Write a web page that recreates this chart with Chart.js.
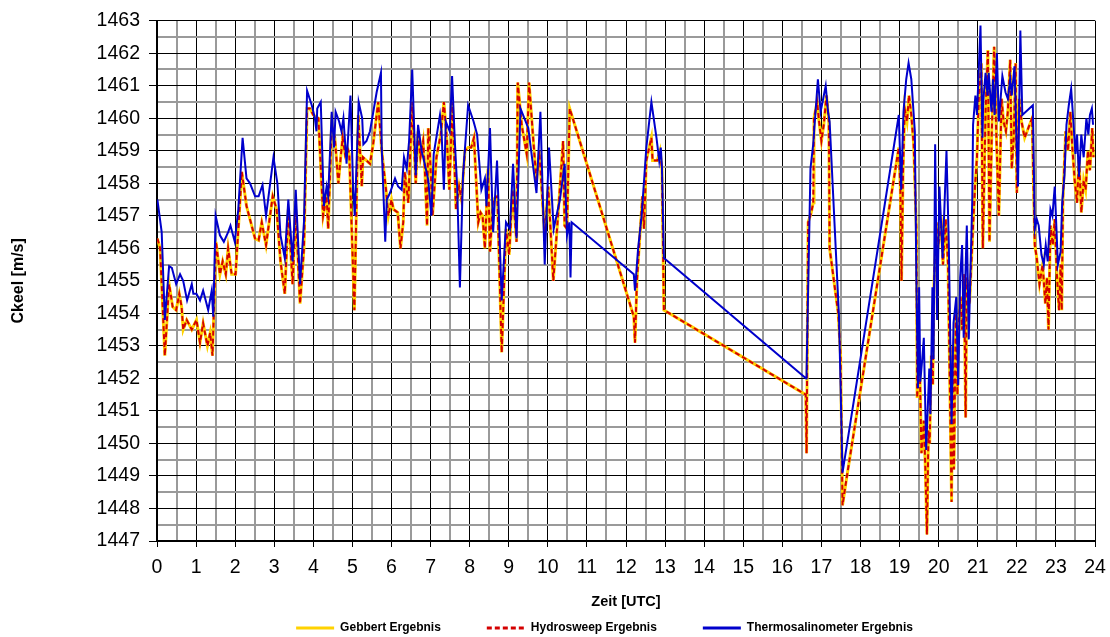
<!DOCTYPE html>
<html>
<head>
<meta charset="utf-8">
<title>Ckeel – Vergleich</title>
<script src="https://cdn.jsdelivr.net/npm/chart.js@4.4.1/dist/chart.umd.min.js"></script>
<style>
  html, body { margin: 0; padding: 0; background: #fff; }
  #wrap { width: 1110px; height: 637px; position: relative; }
</style>
</head>
<body>
<div id="wrap"><canvas id="chart"></canvas></div>
<script>
// Echolot-Auswertung (Gebbert / Hydrosweep): Zeitpunkte in Stunden UTC
const echoHours = [
  0.01,0.08,0.2,0.31,0.4,0.49,0.57,0.63,0.67,0.76,0.89,1.01,1.1,1.18,1.29,1.36,1.42,1.51,1.61,1.68,
  1.76,1.82,1.91,2.01,2.17,2.29,2.51,2.6,2.68,2.79,2.96,3.06,3.16,3.27,3.36,3.47,3.55,3.66,3.76,3.84,
  3.91,4.0,4.13,4.25,4.34,4.38,4.47,4.55,4.64,4.7,4.75,4.81,4.87,4.92,5.05,5.15,5.24,5.27,5.45,5.53,
  5.66,5.75,5.86,5.92,6.0,6.05,6.16,6.23,6.3,6.34,6.43,6.53,6.62,6.68,6.74,6.81,6.85,6.91,6.94,6.98,
  7.05,7.15,7.26,7.34,7.42,7.48,7.56,7.65,7.73,7.79,7.88,7.96,8.04,8.11,8.22,8.28,8.33,8.39,8.47,8.52,
  8.6,8.71,8.82,8.93,9.01,9.1,9.2,9.23,9.33,9.46,9.52,9.63,9.71,9.78,9.92,10.01,10.14,10.26,10.39,10.43,
  10.49,10.56,12.2,12.23,12.28,12.42,12.46,12.52,12.65,12.68,12.8,12.87,12.92,12.97,16.6,16.62,16.66,16.74,16.79,16.81,
  16.89,16.94,17.0,17.06,17.13,17.19,17.21,17.43,17.49,17.54,17.64,18.98,19.02,19.05,19.09,19.13,19.19,19.24,19.3,19.36,
  19.43,19.45,19.51,19.56,19.62,19.66,19.7,19.74,19.77,19.81,19.85,19.88,19.94,19.98,20.03,20.07,20.11,20.18,20.24,20.33,
  20.36,20.39,20.44,20.48,20.52,20.56,20.6,20.65,20.69,20.72,20.79,20.88,20.93,20.98,21.03,21.09,21.13,21.2,21.26,21.3,
  21.36,21.42,21.47,21.54,21.61,21.66,21.72,21.77,21.83,21.87,21.92,21.97,22.0,22.06,22.12,22.2,22.39,22.46,22.51,22.58,
  22.66,22.73,22.77,22.81,22.86,22.92,22.97,23.02,23.08,23.12,23.15,23.18,23.25,23.31,23.37,23.42,23.48,23.54,23.59,23.65,
  23.71,23.76,23.82,23.87,23.93,23.96
];

// Schallgeschwindigkeit am Kiel [m/s] nach Gebbert
const gebbertSpeed = [
  1456.3,1456.0,1452.7,1454.9,1454.2,1454.1,1454.6,1454.2,1453.5,1453.8,1453.5,1453.8,1453.1,1453.7,1453.0,1453.4,1452.7,1456.2,1455.2,1455.6,
  1455.2,1456.0,1455.2,1455.2,1458.35,1457.3,1456.3,1456.25,1456.8,1456.1,1457.6,1457.2,1455.6,1454.6,1457.2,1454.9,1457.2,1454.3,1456.0,1460.3,
  1460.3,1460.1,1460.0,1457.0,1457.6,1456.6,1459.8,1459.4,1458.0,1458.8,1459.4,1458.9,1459.1,1458.9,1454.1,1460.1,1457.9,1458.8,1458.6,1459.2,
  1460.5,1459.0,1457.8,1457.0,1457.5,1457.2,1457.1,1456.0,1456.8,1458.35,1457.4,1460.5,1458.0,1459.6,1458.8,1459.3,1458.5,1456.7,1459.7,1459.0,
  1457.0,1458.8,1459.5,1460.5,1459.3,1457.8,1460.5,1457.2,1457.9,1457.5,1459.0,1459.1,1459.1,1459.4,1456.8,1457.1,1457.0,1456.0,1458.45,1455.9,
  1457.5,1457.6,1452.8,1456.6,1455.8,1457.8,1456.2,1461.1,1459.8,1458.9,1461.1,1459.3,1458.05,1459.0,1456.4,1457.9,1455.0,1457.0,1459.3,1456.7,
  1456.6,1460.3,1453.9,1453.1,1455.0,1457.6,1456.6,1458.7,1459.4,1458.7,1458.7,1459.0,1458.45,1454.1,1451.5,1449.7,1456.8,1457.1,1457.4,1460.0,
  1460.5,1459.9,1459.3,1459.8,1460.7,1459.9,1456.0,1454.0,1452.7,1448.1,1448.9,1459.1,1457.8,1455.0,1458.45,1460.3,1459.9,1460.7,1460.1,1459.2,
  1456.6,1451.4,1452.7,1449.7,1450.7,1449.2,1447.2,1450.4,1450.0,1452.7,1451.8,1454.9,1456.8,1456.0,1456.5,1456.7,1455.5,1456.9,1455.5,1448.2,
  1453.0,1449.2,1454.0,1451.5,1453.8,1454.5,1453.5,1455.2,1450.8,1455.1,1454.3,1456.7,1457.9,1458.8,1460.8,1461.7,1456.0,1460.2,1462.1,1456.2,
  1459.6,1462.2,1459.7,1457.0,1460.6,1459.9,1459.6,1460.2,1461.8,1458.45,1459.4,1461.7,1457.7,1460.6,1459.9,1459.4,1460.0,1456.1,1455.7,1454.9,
  1455.5,1454.3,1455.1,1453.5,1456.7,1456.1,1456.9,1455.3,1454.1,1455.5,1454.1,1457.5,1459.6,1459.0,1460.2,1459.1,1458.1,1457.4,1458.8,1457.1,
  1458.1,1457.8,1459.0,1458.4,1459.7,1458.8
];

// Schallgeschwindigkeit am Kiel [m/s] nach Hydrosweep
const hydrosweepSpeed = [
  1456.3,1456.0,1452.7,1454.9,1454.2,1454.1,1454.6,1454.2,1453.5,1453.8,1453.5,1453.8,1453.1,1453.7,1453.0,1453.4,1452.7,1456.2,1455.2,1455.6,
  1455.2,1456.0,1455.2,1455.2,1458.35,1457.3,1456.3,1456.25,1456.8,1456.1,1457.6,1457.2,1455.6,1454.6,1457.2,1454.9,1457.2,1454.3,1456.0,1460.3,
  1460.3,1460.1,1460.0,1457.0,1457.6,1456.6,1459.8,1459.4,1458.0,1458.8,1459.4,1458.9,1459.1,1458.9,1454.1,1460.1,1457.9,1458.8,1458.6,1459.2,
  1460.5,1459.0,1457.8,1457.0,1457.5,1457.2,1457.1,1456.0,1456.8,1458.35,1457.4,1460.5,1458.0,1459.6,1458.8,1459.3,1458.5,1456.7,1459.7,1459.0,
  1457.0,1458.8,1459.5,1460.5,1459.3,1457.8,1460.5,1457.2,1457.9,1457.5,1459.0,1459.1,1459.1,1459.4,1456.8,1457.1,1457.0,1456.0,1458.45,1455.9,
  1457.5,1457.6,1452.8,1456.6,1455.8,1457.8,1456.2,1461.1,1459.8,1458.9,1461.1,1459.3,1458.05,1459.0,1456.4,1457.9,1455.0,1457.0,1459.3,1456.7,
  1456.6,1460.3,1453.9,1453.1,1455.0,1457.6,1456.6,1458.7,1459.4,1458.7,1458.7,1459.0,1458.45,1454.1,1451.5,1449.7,1456.8,1457.1,1457.4,1460.0,
  1460.5,1459.9,1459.3,1459.8,1460.7,1459.9,1456.0,1454.0,1452.7,1448.1,1448.9,1459.1,1457.8,1455.0,1458.45,1460.3,1459.9,1460.7,1460.1,1459.2,
  1456.6,1451.4,1452.7,1449.7,1450.7,1449.2,1447.2,1450.4,1450.0,1452.7,1451.8,1454.9,1456.8,1456.0,1456.5,1456.7,1455.5,1456.9,1455.5,1448.2,
  1453.0,1449.2,1454.0,1451.5,1453.8,1454.5,1453.5,1455.2,1450.8,1455.1,1454.3,1456.7,1457.9,1458.8,1460.8,1461.7,1456.0,1460.2,1462.1,1456.2,
  1459.6,1462.2,1459.7,1457.0,1460.6,1459.9,1459.6,1460.2,1461.8,1458.45,1459.4,1461.7,1457.7,1460.6,1459.9,1459.4,1460.0,1456.1,1455.7,1454.9,
  1455.5,1454.3,1455.1,1453.5,1456.7,1456.1,1456.9,1455.3,1454.1,1455.5,1454.1,1457.5,1459.6,1459.0,1460.2,1459.1,1458.1,1457.4,1458.8,1457.1,
  1458.1,1457.8,1459.0,1458.4,1459.7,1458.8
];

// Thermosalinometer: Zeitpunkte in Stunden UTC
const tsgHours = [
  0.01,0.12,0.2,0.31,0.38,0.49,0.59,0.67,0.77,0.89,0.93,1.01,1.1,1.18,1.31,1.4,1.44,1.5,1.61,1.71,
  1.82,1.88,1.99,2.08,2.19,2.29,2.38,2.51,2.6,2.7,2.79,2.98,3.08,3.16,3.27,3.36,3.47,3.55,3.66,3.76,
  3.84,3.96,4.04,4.08,4.1,4.19,4.27,4.34,4.38,4.47,4.53,4.57,4.66,4.72,4.77,4.85,4.95,5.02,5.06,5.16,
  5.25,5.28,5.36,5.45,5.62,5.73,5.75,5.84,5.88,5.96,6.09,6.17,6.26,6.32,6.39,6.45,6.53,6.62,6.68,6.77,
  6.85,6.94,7.02,7.08,7.24,7.28,7.34,7.39,7.49,7.55,7.62,7.68,7.75,7.83,7.96,8.1,8.19,8.3,8.39,8.43,
  8.52,8.6,8.7,8.82,8.93,9.03,9.11,9.2,9.3,9.5,9.71,9.81,9.92,10.03,10.15,10.31,10.43,10.49,10.55,10.58,
  10.61,12.2,12.23,12.31,12.4,12.52,12.65,12.78,12.85,12.89,12.92,12.97,16.61,16.62,16.72,16.79,16.91,16.98,17.11,17.17,
  17.21,17.45,17.54,18.98,19.04,19.1,19.17,19.23,19.3,19.39,19.43,19.47,19.5,19.53,19.58,19.62,19.66,19.68,19.76,19.79,
  19.84,19.87,19.91,19.96,20.02,20.1,20.2,20.26,20.33,20.38,20.45,20.5,20.55,20.6,20.64,20.72,20.77,20.86,20.88,20.94,
  20.98,21.07,21.12,21.14,21.2,21.25,21.28,21.35,21.39,21.43,21.49,21.54,21.63,21.71,21.77,21.83,21.87,21.94,21.99,22.03,
  22.09,22.14,22.41,22.46,22.51,22.56,22.63,22.69,22.74,22.79,22.86,22.91,22.97,23.01,23.05,23.12,23.16,23.22,23.27,23.33,
  23.39,23.43,23.5,23.54,23.59,23.65,23.71,23.78,23.83,23.87,23.92,23.95
];

// Schallgeschwindigkeit am Kiel [m/s] aus Thermosalinometer-Daten
const tsgSpeed = [
  1457.5,1456.5,1453.8,1455.45,1455.4,1454.9,1455.2,1455.0,1454.4,1454.9,1454.6,1454.6,1454.4,1454.7,1454.1,1454.7,1453.9,1457.0,1456.4,1456.2,
  1456.5,1456.7,1456.2,1457.2,1459.4,1458.15,1458.0,1457.6,1457.6,1457.95,1457.0,1458.8,1458.0,1456.4,1455.7,1457.5,1455.6,1457.8,1454.9,1456.8,
  1460.85,1460.4,1460.0,1459.6,1460.3,1460.5,1457.3,1457.9,1457.6,1460.2,1459.1,1460.2,1459.9,1459.6,1460.0,1458.6,1460.7,1457.8,1457.0,1460.5,
  1460.0,1459.2,1459.3,1459.6,1460.8,1461.4,1459.1,1456.2,1457.5,1457.7,1458.15,1457.9,1457.8,1458.8,1458.45,1459.3,1461.5,1458.25,1459.8,1459.0,
  1458.6,1458.1,1457.0,1458.9,1460.1,1459.6,1457.8,1459.9,1459.6,1461.3,1459.3,1457.9,1454.8,1458.25,1460.4,1459.9,1459.5,1457.8,1458.15,1457.3,
  1459.7,1456.5,1458.7,1454.4,1456.8,1456.6,1458.6,1456.3,1460.3,1459.7,1457.7,1460.2,1455.5,1459.1,1456.6,1457.5,1458.6,1456.4,1456.8,1455.1,
  1456.8,1455.2,1454.7,1456.0,1457.0,1459.1,1460.5,1459.4,1458.7,1459.1,1458.5,1455.7,1452.0,1452.2,1458.45,1459.2,1461.2,1460.2,1461.0,1460.2,
  1459.9,1453.9,1449.1,1460.1,1457.8,1460.2,1461.2,1461.7,1461.2,1459.6,1455.0,1451.7,1454.8,1451.9,1452.6,1453.25,1451.0,1449.8,1452.3,1450.9,
  1454.8,1452.6,1459.2,1453.8,1457.9,1455.7,1459.0,1456.1,1450.6,1453.7,1454.5,1451.8,1455.1,1456.1,1453.25,1456.7,1453.2,1457.5,1459.8,1460.7,
  1460.1,1462.85,1459.4,1460.5,1461.4,1460.7,1461.4,1460.2,1461.2,1460.1,1462.0,1459.9,1461.3,1460.8,1460.6,1461.2,1460.7,1461.6,1459.4,1457.9,
  1462.7,1460.1,1460.4,1456.6,1456.9,1456.7,1455.8,1455.5,1456.1,1455.6,1457.2,1457.0,1457.9,1456.7,1455.5,1455.9,1457.4,1458.25,1459.8,1460.4,
  1460.9,1460.2,1458.9,1459.5,1458.2,1459.5,1458.8,1460.0,1459.5,1460.1,1460.3,1459.8
];

// Achsenbereiche
const hourRange = [0, 24];
const speedRange = [1447, 1463];

const toPoints = (xs, ys) => xs.map((x, i) => ({ x, y: ys[i] }));

Chart.defaults.font.family = "'Liberation Sans', Arial, sans-serif";
Chart.defaults.color = '#000';

const isWhole = v => Math.abs(v - Math.round(v)) < 1e-9;
const gridColor = c => (c.tick && isWhole(c.tick.value)) ? '#000000' : '#9a9a9a';
const gridWidth = c => (c.tick && isWhole(c.tick.value)) ? 1 : 2;
const tickMarkColor = c => (c.tick && isWhole(c.tick.value)) ? '#000000' : 'rgba(0,0,0,0)';

// shifts the legend row so it sits under the plot like the printed report
const legendShift = {
  id: 'legendShift',
  afterLayout(chart) {
    const lg = chart.legend;
    if (lg) { lg.left += 57; lg.right += 57; }
  }
};

// legend samples use the series' own dash pattern, drawn a little thicker
const legendLabels = chart =>
  Chart.defaults.plugins.legend.labels.generateLabels(chart).map(item => {
    const ds = chart.data.datasets[item.datasetIndex];
    item.strokeStyle = ds.borderColor;
    item.lineDash = ds.borderDash || [];
    item.lineWidth = 3;
    return item;
  });

new Chart(document.getElementById('chart'), {
  type: 'line',
  data: {
    datasets: [
      {
        label: 'Gebbert Ergebnis',
        data: toPoints(echoHours, gebbertSpeed),
        borderColor: '#FFD200',
        backgroundColor: '#FFD200',
        borderWidth: 3,
        pointRadius: 0,
        tension: 0,
        order: 3
      },
      {
        label: 'Hydrosweep Ergebnis',
        data: toPoints(echoHours, hydrosweepSpeed),
        borderColor: '#D40000',
        backgroundColor: '#D40000',
        borderWidth: 2,
        borderDash: [5, 3],
        pointRadius: 0,
        tension: 0,
        order: 2
      },
      {
        label: 'Thermosalinometer Ergebnis',
        data: toPoints(tsgHours, tsgSpeed),
        borderColor: '#0000CC',
        backgroundColor: '#0000CC',
        borderWidth: 2,
        pointRadius: 0,
        tension: 0,
        order: 1
      }
    ]
  },
  options: {
    responsive: true,
    maintainAspectRatio: false,
    animation: false,
    devicePixelRatio: 1,
    layout: { padding: { top: 18, right: 15, left: 0, bottom: -7 } },
    plugins: {
      tooltip: { enabled: false },
      legend: {
        position: 'bottom',
        reverse: true,
        labels: {
          usePointStyle: true,
          pointStyle: 'line',
          pointStyleWidth: 38,
          padding: 46,
          color: '#000',
          font: { size: 12, weight: 'bold' },
          generateLabels: legendLabels
        }
      }
    },
    scales: {
      x: {
        type: 'linear',
        min: hourRange[0],
        max: hourRange[1],
        afterFit: s => { s.height = 35; s.paddingLeft = 0; s.paddingRight = 0; },
        border: { color: '#000', width: 2 },
        grid: { color: gridColor, lineWidth: gridWidth, tickColor: tickMarkColor, tickLength: 6, tickWidth: 1 },
        ticks: {
          stepSize: 0.5,
          autoSkip: false,
          maxRotation: 0,
          padding: 9,
          color: '#000',
          font: { size: 19.5 },
          callback: v => isWhole(v) ? String(Math.round(v)) : ''
        },
        title: {
          display: true,
          text: 'Zeit [UTC]',
          color: '#000',
          font: { size: 14.5, weight: 'bold' },
          padding: { top: 0, bottom: -35 }
        }
      },
      y: {
        type: 'linear',
        min: speedRange[0],
        max: speedRange[1],
        afterFit: s => { s.width = 157; },
        border: { color: '#000', width: 2 },
        grid: { color: gridColor, lineWidth: gridWidth, tickColor: tickMarkColor, tickLength: 8, tickWidth: 1 },
        ticks: {
          stepSize: 0.5,
          autoSkip: false,
          padding: 9,
          color: '#000',
          font: { size: 19.5 },
          callback: v => isWhole(v) ? String(Math.round(v)) : ''
        },
        title: {
          display: true,
          text: 'Ckeel [m/s]',
          color: '#000',
          font: { size: 16, weight: 'bold' },
          padding: { top: 9, bottom: 0 }
        }
      }
    }
  },
  plugins: [legendShift]
});
</script>
</body>
</html>
